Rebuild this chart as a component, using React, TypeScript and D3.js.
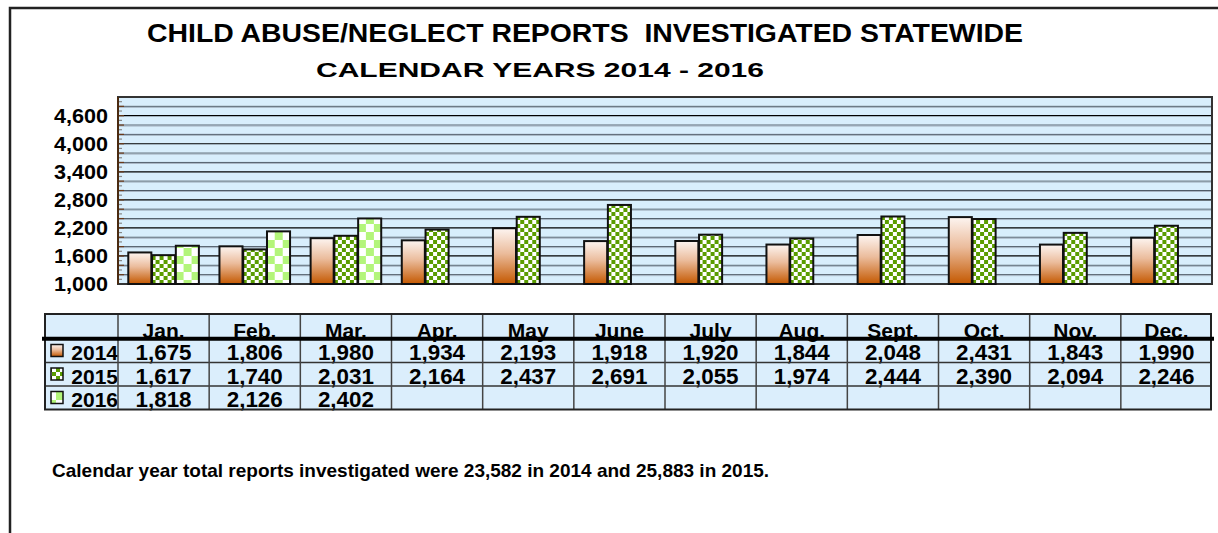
import React from 'react';
import * as d3 from 'd3';

const months = ['Jan.', 'Feb.', 'Mar.', 'Apr.', 'May', 'June', 'July', 'Aug.', 'Sept.', 'Oct.', 'Nov.', 'Dec.'];
const years = ['2014', '2015', '2016'];
const values2014 = [1675, 1806, 1980, 1934, 2193, 1918, 1920, 1844, 2048, 2431, 1843, 1990];
const values2015 = [1617, 1740, 2031, 2164, 2437, 2691, 2055, 1974, 2444, 2390, 2094, 2246];
const values2016 = [1818, 2126, 2402];
const yTicks = [1000, 1600, 2200, 2800, 3400, 4000, 4600];

const title = 'CHILD ABUSE/NEGLECT REPORTS  INVESTIGATED STATEWIDE';
const subtitle = 'CALENDAR YEARS 2014 - 2016';
const footnote = 'Calendar year total reports investigated were 23,582 in 2014 and 25,883 in 2015.';

const W = 1218;
const H = 533;
const font = '"Liberation Sans", Arial, sans-serif';

export default function App() {
  const series = [values2014, values2015, values2016];
  const fills = ['url(#g2014)', 'url(#p2015)', 'url(#p2016)'];

  const plot = { left: 118, right: 1212, top: 97, bottom: 284 };
  const x = d3.scaleBand<string>().domain(months).range([plot.left, plot.right]).paddingInner(0.21).paddingOuter(0.105);
  const x1 = d3.scaleBand<string>().domain(years).range([0, x.bandwidth()]).padding(0.03);
  const y = d3.scaleLinear().domain([1000, 5000]).range([plot.bottom, plot.top]);
  const fmt = d3.format(',');

  const grid = d3.range(1200, 5000, 200);
  const smallTicks = d3.range(1100, 5000, 100);

  // table geometry
  const col = d3.scaleBand<string>().domain(months).range([plot.left, plot.right]);
  const tLeft = 45;
  const tRight = 1211;
  const rows = [314, 339, 362.5, 386, 409.5];

  return (
    <svg width={W} height={H} style={{ position: 'absolute', left: 0, top: 0 }} fontFamily={font}>
      <defs>
        <linearGradient id="g2014" x1="0" y1="0" x2="0" y2="1">
          <stop offset="0" stopColor="#fdf5f1" />
          <stop offset="0.45" stopColor="#ebbc9c" />
          <stop offset="1" stopColor="#c45800" />
        </linearGradient>
        <pattern id="p2015" width="8" height="8" patternUnits="userSpaceOnUse">
          <rect width="8" height="8" fill="#ffffff" />
          <rect width="4" height="4" fill="#5a9c00" />
          <rect x="4" y="4" width="4" height="4" fill="#5a9c00" />
        </pattern>
        <pattern id="p2016" width="16" height="16" patternUnits="userSpaceOnUse">
          <rect width="16" height="16" fill="#ffffff" />
          <rect width="8" height="8" fill="#b3f57a" />
          <rect x="8" y="8" width="8" height="8" fill="#b3f57a" />
        </pattern>
      </defs>

      <rect width={W} height={H} fill="#fff" />
      {/* outer frame */}
      <path d={`M10,${H} V8 H${W}`} fill="none" stroke="#222" strokeWidth={2.5} />

      <text x={585} y={42} textAnchor="middle" fontSize={25} fontWeight="bold" textLength={876}
        lengthAdjust="spacingAndGlyphs" style={{ whiteSpace: 'pre' }}>{title}</text>
      <text x={540} y={77} textAnchor="middle" fontSize={20} fontWeight="bold" textLength={448}
        lengthAdjust="spacingAndGlyphs">{subtitle}</text>

      {/* plot area */}
      <rect x={plot.left} y={plot.top} width={plot.right - plot.left} height={plot.bottom - plot.top} fill="#d8eefc" />
      {grid.map(v => (v - 1000) % 600 === 0 ? (
        <line key={v} x1={plot.left} x2={plot.right} y1={y(v)} y2={y(v)} stroke="#000" strokeWidth={1.2} />
      ) : (
        <g key={v}>
          <line x1={plot.left} x2={plot.right} y1={y(v)} y2={y(v)} stroke="#4e5a66" strokeWidth={1} />
          <line x1={plot.left} x2={plot.right} y1={y(v) + 1} y2={y(v) + 1} stroke="#a6b4c2" strokeWidth={1} />
        </g>
      ))}
      {smallTicks.map(v => (
        <line key={v} x1={plot.left} x2={plot.left + (v % 200 === 0 ? 6 : 4)} y1={y(v)} y2={y(v)}
          stroke={v % 200 === 0 ? '#6b3a1a' : '#888'} strokeWidth={1.2} />
      ))}
      <rect x={plot.left} y={plot.top} width={plot.right - plot.left} height={plot.bottom - plot.top}
        fill="none" stroke="#333" strokeWidth={2} />
      <line x1={plot.left} x2={plot.left} y1={plot.top} y2={plot.bottom} stroke="#4a2a10" strokeWidth={2} />

      {/* bars */}
      {months.map((m, i) => (
        <g key={m} transform={`translate(${x(m)},0)`}>
          {years.map((yr, j) => {
            const v = series[j][i];
            if (v === undefined) return null;
            return (
              <rect key={yr} x={x1(yr)} y={y(v)} width={x1.bandwidth()} height={y(1000) - y(v)}
                fill={fills[j]} stroke="#111" strokeWidth={2} />
            );
          })}
        </g>
      ))}

      {yTicks.map(v => (
        <text key={v} x={108} y={y(v) + 7} textAnchor="end" fontSize={20} fontWeight="bold"
          textLength={54} lengthAdjust="spacingAndGlyphs">{fmt(v)}</text>
      ))}

      {/* data table */}
      <rect x={tLeft} y={rows[0]} width={tRight - tLeft} height={rows[4] - rows[0]} fill="#dbeefc" />
      {months.map(m => (
        <text key={m} x={col(m)! + col.bandwidth() / 2} y={337.5} textAnchor="middle" fontSize={21} fontWeight="bold">{m}</text>
      ))}
      {years.map((yr, j) => {
        const top = rows[j + 1];
        const bottom = rows[j + 2];
        return (
          <g key={yr}>
            <rect x={51} y={top + 5.5} width={12} height={12} fill={fills[j]} stroke="#111" strokeWidth={1.5} />
            <text x={118} y={bottom - 2.5} textAnchor="end" fontSize={21} fontWeight="bold">{yr}</text>
            {series[j].map((v, i) => (
              <text key={i} x={col(months[i])! + col.bandwidth() / 2} y={bottom - 2.5} textAnchor="middle"
                fontSize={21.5} fontWeight="bold" textLength={56} lengthAdjust="spacingAndGlyphs">{fmt(v)}</text>
            ))}
          </g>
        );
      })}
      {rows.slice(2, 4).map(r => (
        <line key={r} x1={tLeft} x2={tRight} y1={r} y2={r} stroke="#333" strokeWidth={1.5} />
      ))}
      {months.map(m => (
        <line key={m} x1={col(m)} x2={col(m)} y1={rows[0]} y2={rows[4]} stroke="#444" strokeWidth={1.5} />
      ))}
      <rect x={tLeft} y={rows[0]} width={tRight - tLeft} height={rows[4] - rows[0]} fill="none" stroke="#222" strokeWidth={2} />
      <line x1={42} x2={1214} y1={338.7} y2={338.7} stroke="#000" strokeWidth={4} />

      <text x={52} y={477} fontSize={19} fontWeight="bold">{footnote}</text>
    </svg>
  );
}
